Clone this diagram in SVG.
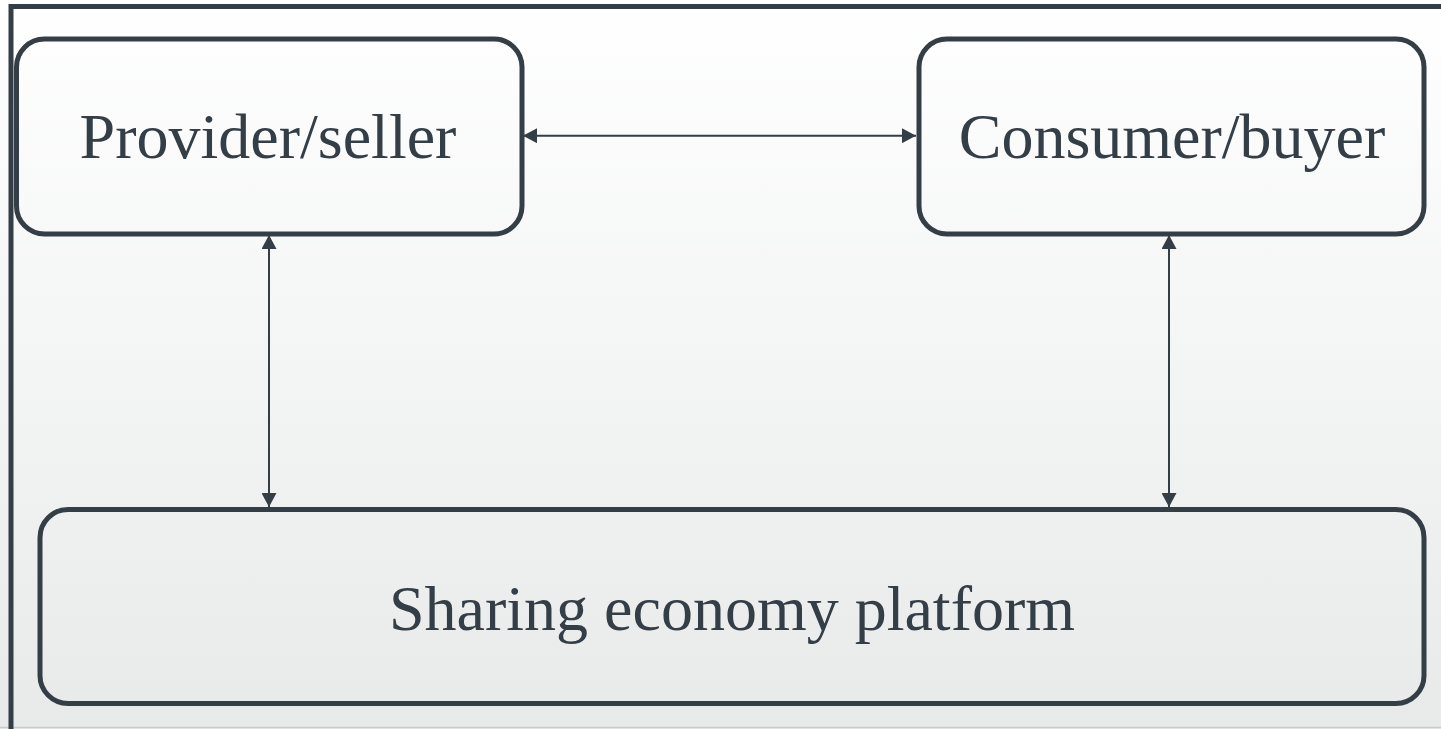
<svg xmlns="http://www.w3.org/2000/svg" width="1441" height="729" viewBox="0 0 1441 729">
<style>
.box{fill:none;stroke:#343e46;stroke-width:5}
.lbl{font-family:"Liberation Serif","Times New Roman",serif;font-size:64px;fill:#333e47;text-anchor:middle}
.conn{stroke:#343e46;stroke-width:2;fill:none;marker-start:url(#ah);marker-end:url(#ah)}
</style>
<defs>
<linearGradient id="bg" x1="0" y1="0" x2="0" y2="1">
<stop offset="0" stop-color="#ffffff"/>
<stop offset="1" stop-color="#e8eaea"/>
</linearGradient>
<marker id="ah" viewBox="0 0 14 15" refX="14" refY="7.5" markerWidth="14" markerHeight="15" markerUnits="userSpaceOnUse" orient="auto-start-reverse">
<path d="M0,0 L14,7.5 L0,15 Z" fill="#343e46"/>
</marker>
</defs>
<rect x="0" y="0" width="1441" height="729" fill="url(#bg)"/>
<line x1="0" y1="727.5" x2="1441" y2="727.5" stroke="#c9cccd" stroke-width="1.5"/>
<path d="M11,729 L11,6.5 L1441,6.5" fill="none" stroke="#343e46" stroke-width="5"/>
<g id="connectors">
<line class="conn" x1="523" y1="135.7" x2="916" y2="135.7"/>
<line class="conn" x1="269" y1="235" x2="269" y2="507"/>
<line class="conn" x1="1169" y1="235" x2="1169" y2="507"/>
</g>
<g id="provider">
<rect class="box" x="16.5" y="39" width="505.5" height="195" rx="28"/>
<text class="lbl" x="268" y="158">Provider/seller</text>
</g>
<g id="consumer">
<rect class="box" x="919" y="39" width="505" height="195" rx="28"/>
<text class="lbl" x="1172" y="158">Consumer/buyer</text>
</g>
<g id="platform">
<rect class="box" x="40" y="509.5" width="1384" height="194" rx="28"/>
<text class="lbl" x="732" y="630">Sharing economy platform</text>
</g>
</svg>
